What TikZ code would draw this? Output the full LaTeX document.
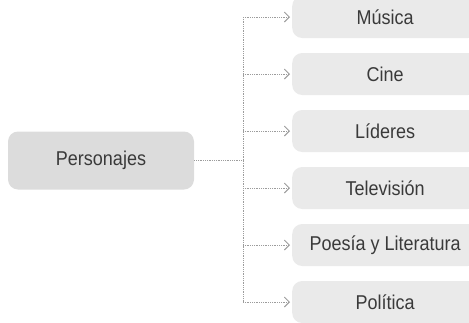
\documentclass[tikz,border=0pt]{standalone}
\usepackage{fontspec}
\setmainfont{Liberation Sans}[FakeStretch=0.9]
\usetikzlibrary{arrows.meta}
\definecolor{boxgray}{HTML}{DCDCDC}
\definecolor{itemgray}{HTML}{EAEAEA}
\definecolor{linegray}{HTML}{9C9C9C}
\definecolor{textgray}{HTML}{3A3A3A}
\begin{document}
\begin{tikzpicture}[x=1pt,y=-1pt,
	main/.style={fill=boxgray,rounded corners=10pt,minimum width=186pt,minimum height=58pt,text=textgray,font=\fontsize{20}{24}\selectfont},
	item/.style={fill=itemgray,rounded corners=10pt,minimum width=186pt,minimum height=42pt,anchor=west,text=textgray,font=\fontsize{20}{24}\selectfont},
	link/.style={draw=linegray,densely dotted,line width=0.8pt}]
	\useasboundingbox (0,0) rectangle (469,322);
	\node[main] (pers) at (101,160.5) {Personajes};
	\coordinate (fork) at (243,160.5);
	\foreach \t [count=\i] in {Música,Cine,Líderes,Televisión,Poesía y Literatura,Política}
		\node[item] (it\i) at (292,{17+57*(\i-1)}) {\t};
	\draw[link] (pers) -- (fork);
	\draw[link] (fork |- it1) -- (fork |- it6);
	\foreach \i in {1,...,6}
		\draw[link,shorten >=2pt,-{Straight Barb[length=5pt,width=10pt,line width=0.9pt]}] (fork |- it\i) -- (it\i);
\end{tikzpicture}
\end{document}
